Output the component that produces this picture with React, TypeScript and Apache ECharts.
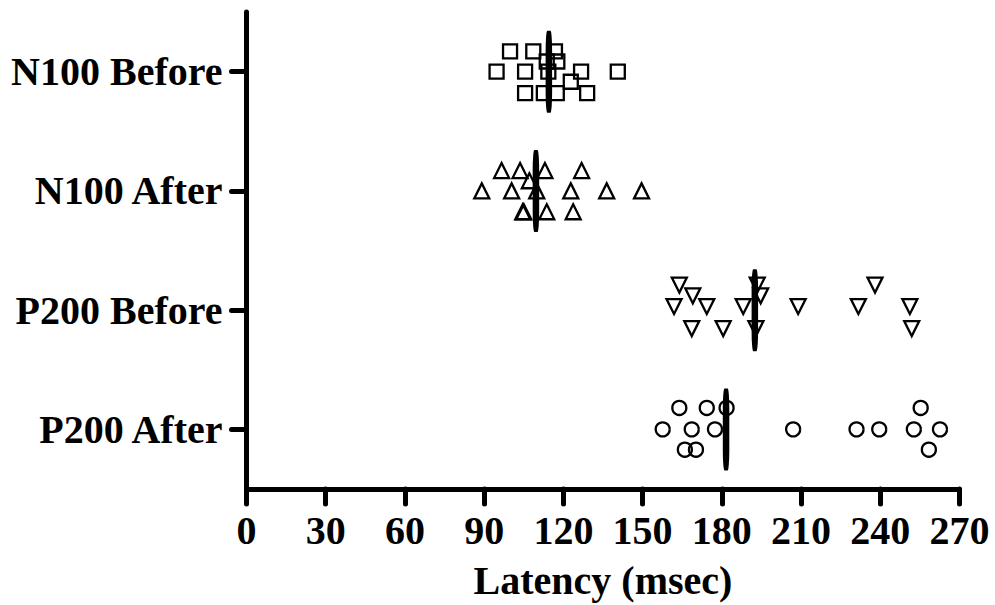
import React, { useEffect, useRef } from "react";
import * as echarts from "echarts";

const categories = ["N100 Before", "N100 After", "P200 Before", "P200 After"];
const xTicks = [0, 30, 60, 90, 120, 150, 180, 210, 240, 270];

const n100BeforeX = [99.8, 108.6, 116.8, 113.7, 117.7, 94.7, 105.5, 114.3, 126.7, 140.6, 122.8, 105.5, 112.6, 117.5, 129.0];
const n100BeforeOff = [-0.17, -0.17, -0.17, -0.085, -0.085, 0, 0, 0, 0, 0, 0.085, 0.18, 0.18, 0.18, 0.18];

const n100AfterX = [96.6, 103.6, 113.0, 126.9, 107.1, 89.1, 100.4, 109.9, 122.8, 136.4, 149.6, 104.6, 105.0, 113.7, 123.7];
const n100AfterOff = [-0.17, -0.17, -0.17, -0.17, -0.085, 0, 0, 0, 0, 0, 0, 0.175, 0.175, 0.175, 0.175];

const p200BeforeX = [163.9, 193.4, 238.0, 169.0, 194.7, 161.9, 174.3, 188.1, 208.9, 231.7, 251.2, 168.6, 180.5, 192.9, 251.9];
const p200BeforeOff = [-0.21, -0.21, -0.21, -0.12, -0.12, -0.03, -0.03, -0.03, -0.03, -0.03, -0.03, 0.155, 0.155, 0.155, 0.155];

const p200AfterX = [163.9, 174.3, 181.8, 255.3, 157.6, 168.6, 177.4, 207.0, 231.0, 239.6, 252.7, 262.6, 166.0, 170.2, 258.4];
const p200AfterOff = [-0.18, -0.18, -0.18, -0.18, 0, 0, 0, 0, 0, 0, 0, 0, 0.17, 0.17, 0.17];

const means = [114.5, 109.6, 192.5, 181.6];

const FONT = "'Liberation Serif', 'Times New Roman', serif";

function pts(xs: number[], offs: number[], cat: number) {
  return xs.map((x, i) => [x, cat + offs[i]]);
}

export default function App() {
  const ref = useRef<HTMLDivElement>(null);
  useEffect(() => {
    if (!ref.current) return;
    const chart = echarts.init(ref.current, null, { renderer: "svg" });
    const markerStyle = { color: "rgba(0,0,0,0)", borderColor: "#000", borderWidth: 2.3, opacity: 1 };
    const option: any = {
      animation: false,
      backgroundColor: "#fff",
      grid: { left: 246.5, right: 35.5, top: 12, bottom: 113, containLabel: false },
      xAxis: {
        type: "value",
        min: xTicks[0],
        max: xTicks[xTicks.length - 1],
        interval: 30,
        name: "Latency (msec)",
        nameLocation: "middle",
        nameGap: 71,
        nameTextStyle: { fontFamily: FONT, fontWeight: "bold", fontSize: 40, color: "#000" },
        axisLine: { show: true, onZero: false, lineStyle: { color: "#000", width: 5, cap: "round" } },
        axisTick: { show: true, length: 15, lineStyle: { color: "#000", width: 5, cap: "round" } },
        axisLabel: { margin: 21, fontFamily: FONT, fontWeight: "bold", fontSize: 40, color: "#000" },
        splitLine: { show: false },
      },
      yAxis: [
        {
          type: "category",
          data: categories,
          inverse: true,
          boundaryGap: true,
          axisLine: { show: true, onZero: false, lineStyle: { color: "#000", width: 5, cap: "round" } },
          axisTick: { show: true, alignWithLabel: true, length: 15, lineStyle: { color: "#000", width: 5, cap: "round" } },
          axisLabel: { margin: 24, fontFamily: FONT, fontWeight: "bold", fontSize: 40, color: "#000" },
          splitLine: { show: false },
        },
        {
          type: "value",
          min: -0.5,
          max: 3.5,
          inverse: true,
          show: false,
          position: "right",
          splitLine: { show: false },
        },
      ],
      series: [
        {
          type: "scatter",
          yAxisIndex: 1,
          symbol: "rect",
          symbolSize: 14,
          itemStyle: markerStyle,
          data: pts(n100BeforeX, n100BeforeOff, 0),
        },
        {
          type: "scatter",
          yAxisIndex: 1,
          symbol: "triangle",
          symbolSize: 15,
          itemStyle: markerStyle,
          data: pts(n100AfterX, n100AfterOff, 1),
        },
        {
          type: "scatter",
          yAxisIndex: 1,
          symbol: "triangle",
          symbolRotate: 180,
          symbolSize: 15,
          itemStyle: markerStyle,
          data: pts(p200BeforeX, p200BeforeOff, 2),
        },
        {
          type: "scatter",
          yAxisIndex: 1,
          symbol: "circle",
          symbolSize: 14,
          itemStyle: markerStyle,
          data: pts(p200AfterX, p200AfterOff, 3),
        },
        {
          type: "scatter",
          yAxisIndex: 1,
          symbol: "roundRect",
          symbolSize: [6.5, 82],
          z: 5,
          itemStyle: { color: "#000", opacity: 1 },
          data: means.map((m, i) => [m, i]),
        },
      ],
    };
    chart.setOption(option);
    return () => chart.dispose();
  }, []);
  return (
    <div
      ref={ref}
      style={{ position: "absolute", left: 0, top: 0, width: 995, height: 605, background: "#fff" }}
    />
  );
}
